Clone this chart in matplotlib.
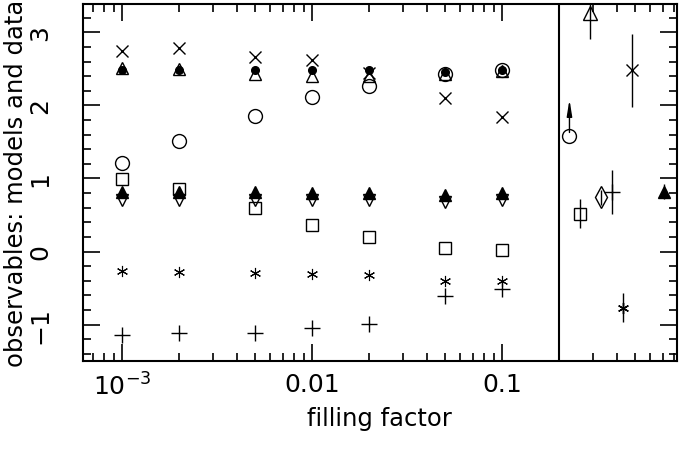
import matplotlib.pyplot as plt
from matplotlib.ticker import LogLocator, FixedLocator, FuncFormatter, NullFormatter

plt.rcParams['font.family'] = 'DejaVu Sans'
plt.rcParams['font.size'] = 17

# model filling factors
ff = [1e-3, 2e-3, 5e-3, 0.01, 0.02, 0.05, 0.1]

# model values, one list per observable
m_cross = [2.75, 2.79, 2.67, 2.62, 2.45, 2.10, 1.84]
m_dot = [2.48, 2.48, 2.48, 2.48, 2.49, 2.46, 2.48]
m_tri = [2.52, 2.50, 2.43, 2.41, 2.40, 2.43, 2.47]
m_circ = [1.21, 1.51, 1.86, 2.11, 2.27, 2.43, 2.48]
m_sq = [0.99, 0.85, 0.60, 0.36, 0.20, 0.05, 0.02]
m_ftri = [0.82, 0.81, 0.82, 0.80, 0.80, 0.77, 0.80]
m_dtri = [0.71, 0.71, 0.71, 0.70, 0.70, 0.68, 0.70]
m_ast = [-0.26, -0.28, -0.29, -0.31, -0.32, -0.40, -0.40]
m_plus = [-1.15, -1.11, -1.11, -1.05, -0.99, -0.61, -0.51]

# observed values (right panel): x position, value, error
o_circ = (0.226, 1.58)          # lower limit
o_sq = (0.258, 0.52, 0.20)
o_tri = (0.290, 3.27, 0.36)
o_diam = (0.332, 0.74, 0.10)
o_plus = (0.378, 0.82, 0.30)
o_ast = (0.430, -0.77, 0.20)
o_cross = (0.485, 2.48, 0.50)
o_ftri = (0.713, 0.82, 0.10)

x_split = 0.2
asterisk = (6, 2, 0)

fig = plt.figure(figsize=(6.85, 4.52), dpi=100)
ax = fig.add_axes([0.121, 0.199, 0.867, 0.790])

lw = 1.0
ax.plot(ff, m_cross, 'x', color='k', ms=8, mew=lw)
ax.plot(ff, m_tri, '^', color='k', mfc='none', ms=9, mew=lw)
ax.plot(ff, m_circ, 'o', color='k', mfc='none', ms=10, mew=lw)
ax.plot(ff, m_dot, 'o', color='k', ms=5.5)
ax.plot(ff, m_sq, 's', color='k', mfc='none', ms=8, mew=lw)
ax.plot(ff, m_dtri, 'v', color='k', mfc='none', ms=9, mew=lw)
ax.plot(ff, m_ftri, '^', color='k', ms=9, mew=lw)
ax.plot(ff, m_ast, marker=asterisk, ls='none', color='k', ms=8, mew=0.8)
ax.plot(ff, m_plus, '+', color='k', ms=11, mew=lw)

# observations
ax.plot(o_circ[0], o_circ[1], 'o', color='k', mfc='none', ms=10, mew=lw)
ax.annotate('', xy=(o_circ[0], o_circ[1] + 0.5), xytext=(o_circ[0], o_circ[1] + 0.05),
            arrowprops=dict(arrowstyle='-|>,head_length=0.8,head_width=0.13',
                            color='k', lw=lw, mutation_scale=12,
                            shrinkA=0, shrinkB=0))
eb = dict(color='k', elinewidth=lw, capsize=0, mew=lw, ls='none')
ax.errorbar(o_sq[0], o_sq[1], yerr=o_sq[2], marker='s', mfc='none', ms=8, **eb)
ax.errorbar(o_tri[0], o_tri[1], yerr=o_tri[2], marker='^', mfc='none', ms=10, **eb)
ax.errorbar(o_diam[0], o_diam[1], yerr=o_diam[2], marker='d', mfc='none', ms=11, **eb)
ax.errorbar(o_plus[0], o_plus[1], yerr=o_plus[2], marker='+', ms=11, **eb)
ax.errorbar(o_ast[0], o_ast[1], yerr=o_ast[2], marker=asterisk, ms=8, **eb)
ax.errorbar(o_cross[0], o_cross[1], yerr=o_cross[2], marker='x', ms=8, **eb)
ax.errorbar(o_ftri[0], o_ftri[1], yerr=o_ftri[2], marker='^', ms=9, **eb)

ax.axvline(x_split, color='k', lw=1.5)

ax.set_xscale('log')
ax.set_xlim(6.2e-4, 0.83)
ax.set_ylim(-1.5, 3.39)

ax.xaxis.set_major_locator(FixedLocator([1e-3, 0.01, 0.1]))
ax.xaxis.set_major_formatter(FuncFormatter(
    lambda v, p: r'$10^{-3}$' if v < 0.005 else ('%g' % v)))
ax.xaxis.set_minor_locator(LogLocator(base=10, subs=range(2, 10), numticks=20))
ax.xaxis.set_minor_formatter(NullFormatter())
ax.yaxis.set_major_locator(FixedLocator([-1, 0, 1, 2, 3]))
ax.yaxis.set_minor_locator(FixedLocator([v / 5 for v in range(-7, 17)]))

ax.tick_params(which='both', direction='in', top=True, right=True, width=1.2)
ax.tick_params(which='major', length=12, labelsize=18)
ax.tick_params(which='minor', length=6)
ax.tick_params(axis='x', which='major', pad=8)
ax.tick_params(axis='y', which='major', pad=22, labelrotation=90)
for t in ax.get_yticklabels():
    t.set_va('center')
for s in ax.spines.values():
    s.set_linewidth(1.5)

ax.set_xlabel('filling factor', fontsize=17.5, labelpad=5)
ax.set_ylabel('observables: models and data', fontsize=17.5, labelpad=0)

fig.savefig('out.png', dpi=100)
